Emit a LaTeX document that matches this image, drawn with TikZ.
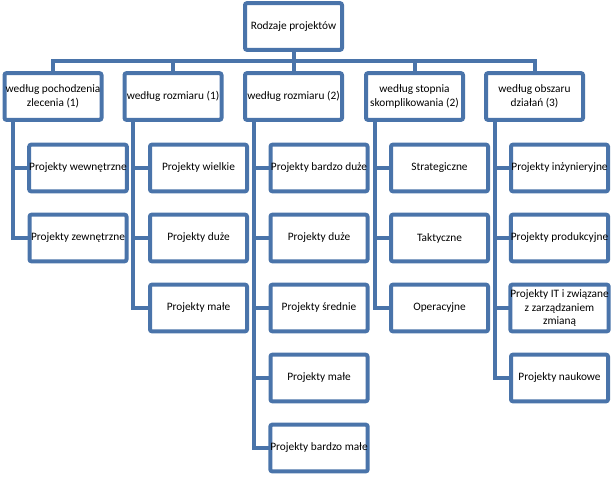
\documentclass[tikz,border=0pt]{standalone}
\usepackage{fontspec}
\setmainfont{Carlito}
\usetikzlibrary{calc}
\definecolor{lnc}{RGB}{74,116,170}
\begin{document}
\begin{tikzpicture}[x=0.75pt,y=-0.75pt,
  box/.style={draw=lnc,line width=3pt,fill=white,rounded corners=1.5pt,
    minimum width=72.75pt,minimum height=35pt,inner sep=0pt,outer sep=0pt,
    align=center,font=\fontsize{8.5pt}{10pt}\selectfont},
  conn/.style={draw=lnc,line width=3pt,line join=miter}]
\useasboundingbox (0,0) rectangle (613,479);
% top
\node[box] (top) at (293.5,26.5) {Rodzaje projektów};
% level 1
\node[box] (a) at (53,96.5) {według pochodzenia\\zlecenia (1)};
\node[box] (b) at (173,96.5) {według rozmiaru (1)};
\node[box] (c) at (293.5,96.5) {według rozmiaru (2)};
\node[box] (d) at (414.5,96.5) {według stopnia\\skomplikowania (2)};
\node[box] (e) at (534.5,96.5) {według obszaru\\działań (3)};
\coordinate (bus) at (0,61);
% bus connectors
\draw[conn] (a.north) -- (a.north |- bus) -- (e.north |- bus) -- (e.north);
\draw[conn] (top.south) -- (top.south |- bus);
\foreach \n in {b,c,d} {\draw[conn] (\n.north |- bus) -- (\n.north);}
% children
\node[box] (a1) at (78,168) {Projekty wewnętrzne};
\node[box] (a2) at (78,238) {Projekty zewnętrzne};
\node[box] (b1) at (198.5,168) {Projekty wielkie};
\node[box] (b2) at (198.5,238) {Projekty duże};
\node[box] (b3) at (198.5,308) {Projekty małe};
\node[box] (c1) at (319,168) {Projekty bardzo duże};
\node[box] (c2) at (319,238) {Projekty duże};
\node[box] (c3) at (319,308) {Projekty średnie};
\node[box] (c4) at (319,378) {Projekty małe};
\node[box] (c5) at (319,448) {Projekty bardzo małe};
\node[box] (d1) at (439.5,168) {Strategiczne};
\node[box] (d2) at (439.5,238) {Taktyczne};
\node[box] (d3) at (439.5,308) {Operacyjne};
\node[box] (e1) at (559.5,168) {Projekty inżynieryjne};
\node[box] (e2) at (559.5,238) {Projekty produkcyjne};
\node[box] (e3) at (559.5,308) {Projekty IT i związane\\z zarządzaniem\\zmianą};
\node[box] (e4) at (559.5,378) {Projekty naukowe};
% spines
\foreach \p/\kids in {a/{a1,a2},b/{b1,b2,b3},c/{c1,c2,c3,c4,c5},d/{d1,d2,d3},e/{e1,e2,e3,e4}} {
  \foreach \k in \kids {
    \draw[conn] ($(\p.south)+(-40,0)$) |- (\k.west);
  }
}
\end{tikzpicture}
\end{document}
